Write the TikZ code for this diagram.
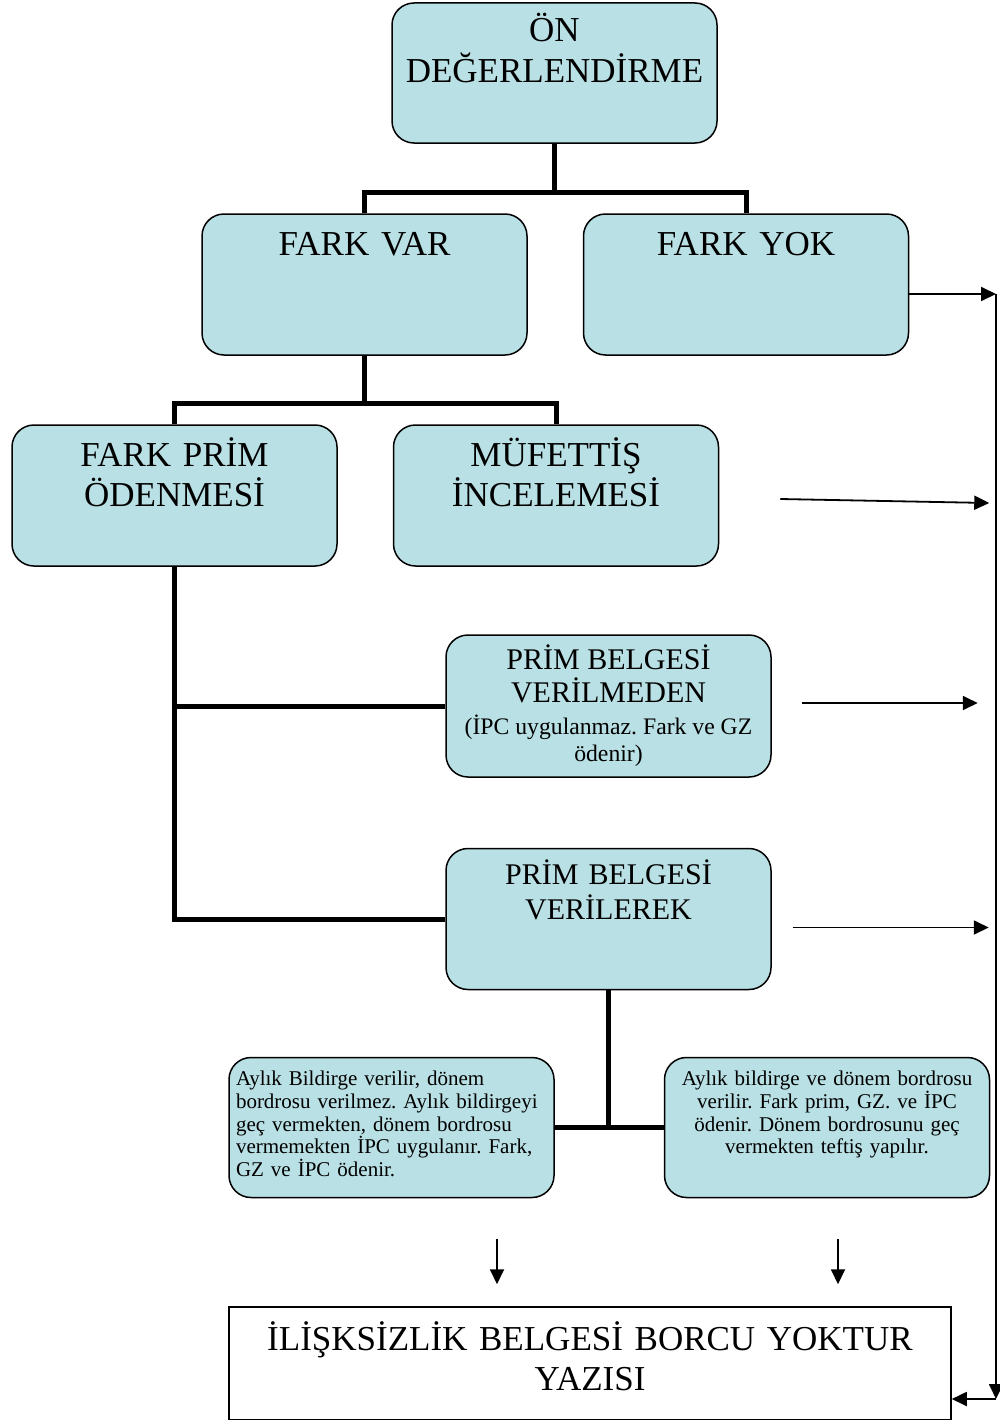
\documentclass[tikz,border=0pt]{standalone}
\usepackage{fontspec}
\setmainfont{Liberation Serif}
\usepackage{tikz}
\usetikzlibrary{arrows.meta, positioning}
\definecolor{cellblue}{RGB}{185,224,228}

\begin{document}
\frenchspacing
\begin{tikzpicture}[
        x=1pt, y=-1pt,
        stagebox/.style={
            rectangle,
            draw=black,
            line width=1.5pt,
            fill=cellblue,
            rounded corners=22pt,
            inner xsep=0pt,
            inner ysep=0pt,
            text width=325pt,
            align=center,
            font=\fontsize{35}{40.5}\selectfont
        },
        notebox/.style={
            stagebox,
            inner xsep=7pt,
            text width=311pt,
            font=\fontsize{21}{22.8}\selectfont
        },
        endbox/.style={
            rectangle,
            draw=black,
            line width=1.5pt,
            fill=white,
            inner sep=0pt,
            text width=722pt,
            align=center,
            font=\fontsize{35}{40}\selectfont
        },
        pad/.style 2 args={text height=#1pt, text depth=#2pt},
        tree/.style={line width=5pt},
        arrow/.style={
            -{Triangle[length=15pt, width=14pt]},
            line width=1.8pt
        }
    ]
    \useasboundingbox (0,0) rectangle (1000,1421);

    % First check
    \node[stagebox, pad={39}{101}] (on) at (554.5,73) {ÖN\\DEĞERLENDİRME};

    % Result of the check
    \node[stagebox, pad={41}{100}] (var) at (364.5,284.5) {FARK VAR};
    \node[stagebox, pad={41}{100}, right=55pt of var] (yok) {FARK YOK};

    % Ways forward when there is a difference
    \node[stagebox, pad={41}{100}] (prim) at (174.5,495.5) {FARK PRİM\\ÖDENMESİ};
    \node[stagebox, pad={41}{100}, right=55pt of prim] (muf) {MÜFETTİŞ\\İNCELEMESİ};

    % Premium document given or not
    \node[stagebox, pad={34}{108}, align=flush center, font=\fontsize{30}{33}\selectfont] (verilmeden) at (608.5,706) {PRİM BELGESİ\\VERİLMEDEN\par\vspace{5pt}\fontsize{23.7}{27}\selectfont (İPC uygulanmaz. Fark ve GZ ödenir)\par};
    \node[stagebox, pad={36}{105}, font=\fontsize{30}{35}\selectfont, below=70pt of verilmeden] (verilerek) {PRİM BELGESİ\\VERİLEREK};

    % Notes
    \node[notebox, pad={28}{112}, align=left] (leftnote) at (391.5,1127.5) {Aylık Bildirge verilir, dönem\\bordrosu verilmez. Aylık bildirgeyi\\geç vermekten, dönem bordrosu\\vermemekten İPC uygulanır. Fark,\\GZ ve İPC ödenir.};
    \node[notebox, pad={28}{112}, right=109pt of leftnote] (rightnote) {Aylık bildirge ve dönem bordrosu\\verilir. Fark prim, GZ. ve İPC\\ödenir. Dönem bordrosunu geç\\vermekten teftiş yapılır.};

    % Final letter
    \node[endbox, pad={43}{69.5}] (final) at (590,1363.25) {İLİŞKSİZLİK BELGESİ BORCU YOKTUR\\YAZISI};

    % Tree lines
    \draw[tree] (on.south) -- ++(0,49) coordinate (j1);
    \draw[tree] (var.north) |- (j1) -| (yok.north);
    \draw[tree] (var.south) -- ++(0,48) coordinate (j2);
    \draw[tree] (prim.north) |- (j2) -| (muf.north);
    \draw[tree] (prim.south) |- (verilerek.west);
    \draw[tree] (prim.south |- verilmeden.west) -- (verilmeden.west);
    \draw[tree] (verilerek.south) -- (verilerek.south |- leftnote.east);
    \draw[tree] (leftnote.east) -- (rightnote.west);

    % Right hand rail
    \coordinate (railtop) at (996,294);
    \coordinate (railbot) at (996,1399);
    \draw[arrow] (yok.east |- railtop) -- (railtop);
    \draw[arrow] (railtop) -- (railbot);
    \draw[arrow] (railbot) -- (final.east |- railbot);

    % Loose arrows
    \draw[arrow] ([xshift=61pt, yshift=-3.5pt]muf.east) -- ++(209,4);
    \draw[arrow] ([xshift=30pt, yshift=3pt]verilmeden.east) -- ++(176,0);
    \draw[arrow] ([xshift=21pt, yshift=-8.5pt]verilerek.east) -- ++(196,0);
    \draw[arrow] ([xshift=-93pt, yshift=67pt]final.north) -- ++(0,45);
    \draw[arrow] ([xshift=248pt, yshift=67pt]final.north) -- ++(0,45);

\end{tikzpicture}
\end{document}
